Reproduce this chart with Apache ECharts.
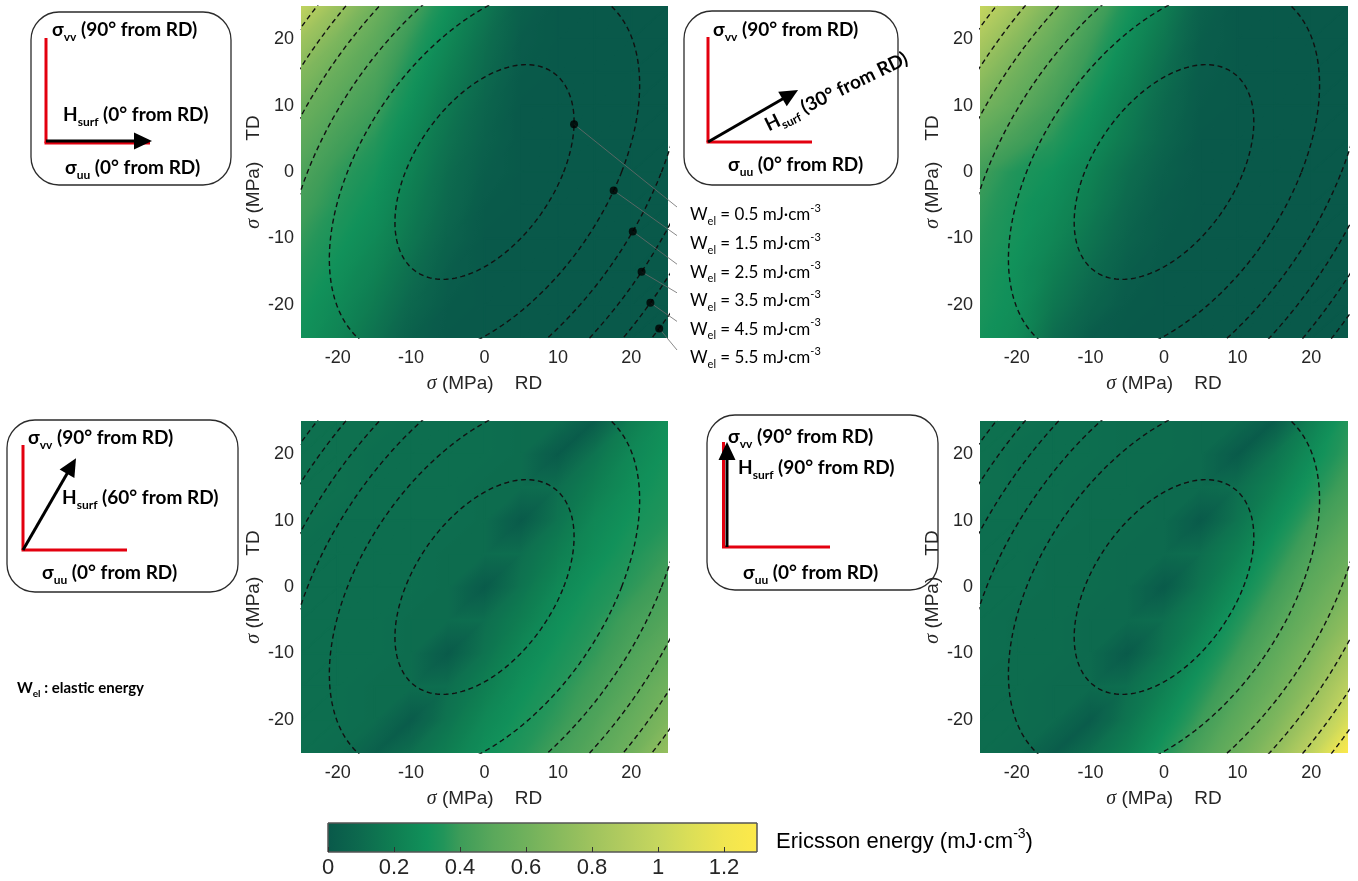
<!DOCTYPE html>
<html>
<head>
<meta charset="utf-8">
<title>Ericsson energy maps</title>
<script src="https://cdn.jsdelivr.net/npm/echarts@6/dist/echarts.min.js"></script>
<style>
  html, body { margin: 0; padding: 0; background: #ffffff; }
  #chart { width: 1358px; height: 881px; }
</style>
</head>
<body>
<div id="chart"></div>
<script>
// ---------------------------------------------------------------------------
// Data: stress grid (MPa) and Ericsson energy (mJ·cm-3) at every grid node.
// Rows run from TD = +25 (top) down to TD = -25, columns from RD = -25 to +25.
// ---------------------------------------------------------------------------
const rdNodes = [-25, -20, -15, -10, -5, 0, 5, 10, 15, 20, 25];
const tdNodes = [25, 20, 15, 10, 5, 0, -5, -10, -15, -20, -25];
const axisTicks = [-20, -10, 0, 10, 20];

// H_surf at 0° from RD
const ericssonH0 = [
  [0.97, 0.78, 0.60, 0.44, 0.30, 0.17, 0.04, 0, 0, 0, 0],
  [0.80, 0.65, 0.52, 0.38, 0.25, 0.13, 0.02, 0, 0, 0, 0],
  [0.68, 0.56, 0.46, 0.33, 0.21, 0.10, 0.01, 0, 0, 0, 0],
  [0.59, 0.49, 0.41, 0.29, 0.17, 0.07, 0, 0, 0, 0, 0],
  [0.52, 0.43, 0.36, 0.25, 0.14, 0.05, 0, 0, 0, 0, 0],
  [0.46, 0.38, 0.32, 0.22, 0.11, 0.03, 0, 0, 0, 0, 0],
  [0.42, 0.35, 0.29, 0.19, 0.09, 0.01, 0, 0, 0, 0, 0],
  [0.38, 0.32, 0.26, 0.16, 0.06, 0, 0, 0, 0, 0, 0],
  [0.35, 0.29, 0.22, 0.12, 0.03, 0, 0, 0, 0, 0, 0],
  [0.32, 0.26, 0.18, 0.08, 0.01, 0, 0, 0, 0, 0, 0],
  [0.30, 0.23, 0.14, 0.04, 0, 0, 0, 0, 0, 0, 0]
];

// H_surf at 30° from RD
const ericssonH30 = [
  [1.00, 0.82, 0.64, 0.47, 0.33, 0.20, 0.05, 0, 0, 0, 0],
  [0.86, 0.70, 0.55, 0.41, 0.28, 0.16, 0.03, 0, 0, 0, 0],
  [0.74, 0.60, 0.48, 0.36, 0.24, 0.12, 0.02, 0, 0, 0, 0],
  [0.63, 0.52, 0.42, 0.31, 0.20, 0.09, 0.01, 0, 0, 0, 0],
  [0.51, 0.43, 0.36, 0.27, 0.17, 0.07, 0, 0, 0, 0, 0],
  [0.41, 0.34, 0.30, 0.22, 0.12, 0.04, 0, 0, 0, 0, 0],
  [0.38, 0.32, 0.27, 0.19, 0.09, 0.02, 0, 0, 0, 0, 0],
  [0.36, 0.31, 0.24, 0.15, 0.06, 0.01, 0, 0, 0, 0, 0],
  [0.34, 0.29, 0.20, 0.11, 0.03, 0, 0, 0, 0, 0, 0],
  [0.33, 0.28, 0.16, 0.07, 0.01, 0, 0, 0, 0, 0, 0],
  [0.31, 0.26, 0.11, 0.02, 0, 0, 0, 0, 0, 0, 0]
];

// H_surf at 60° from RD
const ericssonH60 = [
  [0.13, 0.13, 0.13, 0.12, 0.12, 0.12, 0.11, 0.11, 0.02, 0.20, 0.29],
  [0.13, 0.13, 0.12, 0.12, 0.12, 0.12, 0.11, 0.01, 0.15, 0.25, 0.31],
  [0.13, 0.13, 0.12, 0.12, 0.12, 0.11, 0.11, 0.12, 0.20, 0.28, 0.33],
  [0.13, 0.12, 0.12, 0.12, 0.12, 0.11, 0.01, 0.15, 0.25, 0.31, 0.35],
  [0.12, 0.12, 0.12, 0.12, 0.11, 0.11, 0.12, 0.20, 0.28, 0.34, 0.39],
  [0.12, 0.12, 0.12, 0.12, 0.11, 0.01, 0.15, 0.25, 0.32, 0.37, 0.43],
  [0.12, 0.12, 0.12, 0.11, 0.11, 0.12, 0.20, 0.29, 0.35, 0.42, 0.48],
  [0.12, 0.12, 0.12, 0.11, 0.01, 0.15, 0.25, 0.32, 0.38, 0.46, 0.53],
  [0.12, 0.12, 0.11, 0.11, 0.12, 0.20, 0.29, 0.35, 0.42, 0.50, 0.60],
  [0.12, 0.12, 0.11, 0.02, 0.15, 0.25, 0.32, 0.38, 0.46, 0.55, 0.66],
  [0.12, 0.11, 0.04, 0.12, 0.20, 0.29, 0.35, 0.42, 0.50, 0.60, 0.76]
];

// H_surf at 90° from RD
const ericssonH90 = [
  [0.13, 0.13, 0.12, 0.12, 0.11, 0.11, 0.10, 0.10, 0.02, 0.21, 0.35],
  [0.13, 0.12, 0.12, 0.12, 0.11, 0.11, 0.10, 0.01, 0.15, 0.27, 0.38],
  [0.13, 0.12, 0.12, 0.11, 0.11, 0.10, 0.10, 0.12, 0.21, 0.33, 0.43],
  [0.12, 0.12, 0.12, 0.11, 0.11, 0.10, 0.01, 0.15, 0.27, 0.40, 0.49],
  [0.12, 0.12, 0.11, 0.11, 0.10, 0.10, 0.12, 0.21, 0.34, 0.46, 0.56],
  [0.12, 0.12, 0.11, 0.11, 0.10, 0.01, 0.15, 0.27, 0.40, 0.52, 0.63],
  [0.12, 0.11, 0.11, 0.10, 0.10, 0.12, 0.21, 0.34, 0.46, 0.58, 0.72],
  [0.12, 0.11, 0.11, 0.10, 0.01, 0.15, 0.27, 0.40, 0.52, 0.65, 0.82],
  [0.11, 0.11, 0.10, 0.10, 0.12, 0.21, 0.34, 0.46, 0.58, 0.73, 0.94],
  [0.11, 0.11, 0.10, 0.02, 0.15, 0.27, 0.40, 0.52, 0.65, 0.83, 1.08],
  [0.11, 0.10, 0.02, 0.12, 0.21, 0.34, 0.46, 0.58, 0.74, 0.97, 1.28]
];

// Field direction of each map (degrees from RD)
const fieldAngles = [0, 30, 60, 90];

// Elastic energy contours (mJ·cm-3) and the anisotropic compliance terms:
// W_el = kRR·σRD² + kTT·σTD² − 2·kRT·σRD·σTD   (σ in MPa)
const elasticLevels = [0.5, 1.5, 2.5, 3.5, 4.5, 5.5];
const kRR = 4.3e-3;
const kTT = 2.45e-3;
const kRT = 1.52e-3;
// RD stress of the labelled point picked on each contour
const markerRD = [12.2, 17.6, 20.2, 21.4, 22.6, 23.8];

// Colour bar
const colorbarRange = [0, 1.3];
const colorbarTicks = [0, 0.2, 0.4, 0.6, 0.8, 1, 1.2];

// ---------------------------------------------------------------------------
// Styling
// ---------------------------------------------------------------------------
const CMAP = [
  [0.00, '#09594a'], [0.10, '#0d6a4e'], [0.20, '#0f7e52'], [0.30, '#11915a'],
  [0.35, '#22955a'], [0.40, '#3d9c59'], [0.50, '#5aa85b'], [0.60, '#70b15c'],
  [0.70, '#88ba5d'], [0.80, '#9fc35e'], [0.90, '#b3cc5f'], [1.00, '#c6d65e'],
  [1.10, '#dcdf57'], [1.20, '#f0e550'], [1.30, '#fde94a']
];
const AXIS_FONT = '"Liberation Sans", Arial, sans-serif';
const NARROW_FONT = '"Liberation Sans Narrow", "Liberation Sans", Arial, sans-serif';
const NOTE_FONT = 'Lato, "Open Sans", "DejaVu Sans", sans-serif';
const TEXT_COLOR = '#262626';

function hexToRgb(h) {
  return [parseInt(h.slice(1, 3), 16), parseInt(h.slice(3, 5), 16), parseInt(h.slice(5, 7), 16)];
}
const CMAP_RGB = CMAP.map(s => [s[0], hexToRgb(s[1])]);
function cmapColor(v) {
  const lo = CMAP_RGB[0][0], hi = CMAP_RGB[CMAP_RGB.length - 1][0];
  v = Math.max(lo, Math.min(hi, v));
  for (let i = 0; i < CMAP_RGB.length - 1; i++) {
    const a = CMAP_RGB[i], b = CMAP_RGB[i + 1];
    if (v <= b[0]) {
      const t = (v - a[0]) / (b[0] - a[0]);
      const c = a[1].map((x, k) => Math.round(x + (b[1][k] - x) * t));
      return 'rgb(' + c.join(',') + ')';
    }
  }
  return CMAP[CMAP.length - 1][1];
}

// One linearly shaded triangle: the value is affine over the triangle, so a
// global linear gradient along its gradient direction reproduces it exactly.
function shadedTriangle(p, v) {
  const e1x = p[1][0] - p[0][0], e1y = p[1][1] - p[0][1];
  const e2x = p[2][0] - p[0][0], e2y = p[2][1] - p[0][1];
  const d1 = v[1] - v[0], d2 = v[2] - v[0];
  const det = e1x * e2y - e1y * e2x;
  const lo = Math.min(v[0], v[1], v[2]), hi = Math.max(v[0], v[1], v[2]);
  let fill;
  if (Math.abs(det) < 1e-9 || hi - lo < 1e-6) {
    fill = cmapColor((lo + hi) / 2);
  } else {
    const gx = (d1 * e2y - d2 * e1y) / det;
    const gy = (e1x * d2 - e2x * d1) / det;
    const g2 = gx * gx + gy * gy;
    const ta = (lo - v[0]) / g2, tb = (hi - v[0]) / g2;
    const stops = [];
    const n = 6;
    for (let k = 0; k <= n; k++) {
      stops.push({ offset: k / n, color: cmapColor(lo + (hi - lo) * k / n) });
    }
    fill = {
      type: 'linear', global: true,
      x: p[0][0] + gx * ta, y: p[0][1] + gy * ta,
      x2: p[0][0] + gx * tb, y2: p[0][1] + gy * tb,
      colorStops: stops
    };
  }
  return { type: 'polygon', shape: { points: p }, style: { fill: fill, stroke: fill, lineWidth: 1.6 } };
}

function cellData(field) {
  const out = [];
  for (let r = 0; r < tdNodes.length - 1; r++) {
    for (let c = 0; c < rdNodes.length - 1; c++) {
      out.push([
        rdNodes[c], tdNodes[r + 1], rdNodes[c + 1], tdNodes[r],
        field[r + 1][c], field[r + 1][c + 1], field[r][c], field[r][c + 1]
      ]);
    }
  }
  return out;
}

function renderCell(params, api) {
  const x0 = api.value(0), y0 = api.value(1), x1 = api.value(2), y1 = api.value(3);
  const bl = api.coord([x0, y0]), br = api.coord([x1, y0]);
  const tl = api.coord([x0, y1]), tr = api.coord([x1, y1]);
  const vbl = api.value(4), vbr = api.value(5), vtl = api.value(6), vtr = api.value(7);
  return {
    type: 'group',
    children: [
      shadedTriangle([bl, br, tr], [vbl, vbr, vtr]),
      shadedTriangle([bl, tr, tl], [vbl, vtr, vtl])
    ]
  };
}

// Closed iso-line of the elastic energy quadratic form
function elasticContour(level) {
  const pts = [];
  for (let i = 0; i <= 360; i++) {
    const t = i * Math.PI / 180;
    const c = Math.cos(t), s = Math.sin(t);
    const q = kRR * c * c + kTT * s * s - 2 * kRT * c * s;
    const r = Math.sqrt(level / q);
    pts.push([r * c, r * s]);
  }
  return pts;
}

// Point of a contour at a given RD stress (lower branch)
function contourPointAt(level, rd) {
  const disc = kRT * kRT * rd * rd - kTT * (kRR * rd * rd - level);
  const td = (kRT * rd - Math.sqrt(Math.max(0, disc))) / kTT;
  return [rd, td];
}

// ---------------------------------------------------------------------------
// Layout
// ---------------------------------------------------------------------------
const grids = [
  { left: 301, top: 6, width: 367, height: 332 },
  { left: 980, top: 6, width: 368, height: 332 },
  { left: 301, top: 421, width: 367, height: 332 },
  { left: 980, top: 421, width: 368, height: 332 },
  { left: 328, top: 823, width: 429, height: 29 }
];
const fields = [ericssonH0, ericssonH30, ericssonH60, ericssonH90];

const nameRich = {
  s: { fontFamily: '"Liberation Serif", "DejaVu Serif", serif', fontStyle: 'italic', fontSize: 20, color: TEXT_COLOR }
};

const xAxes = [], yAxes = [], series = [];
for (let k = 0; k < 4; k++) {
  xAxes.push({
    gridIndex: k, type: 'value', min: -25, max: 25,
    axisLine: { show: false }, axisTick: { show: false }, splitLine: { show: false },
    axisLabel: { customValues: axisTicks, color: TEXT_COLOR, fontSize: 18, fontFamily: AXIS_FONT, margin: 11 },
    name: '{s|σ} (MPa)    RD', nameLocation: 'middle', nameGap: 36,
    nameTextStyle: { color: TEXT_COLOR, fontSize: 19, fontFamily: AXIS_FONT, rich: nameRich }
  });
  yAxes.push({
    gridIndex: k, type: 'value', min: -25, max: 25,
    axisLine: { show: false }, axisTick: { show: false }, splitLine: { show: false },
    axisLabel: { customValues: axisTicks, color: TEXT_COLOR, fontSize: 18, fontFamily: AXIS_FONT, margin: 7 },
    name: '{s|σ} (MPa)    TD', nameLocation: 'middle', nameGap: 37,
    nameTextStyle: { color: TEXT_COLOR, fontSize: 19, fontFamily: AXIS_FONT, rich: nameRich }
  });
  series.push({
    type: 'custom', xAxisIndex: k, yAxisIndex: k, silent: true, z: 1, clip: true,
    renderItem: renderCell, encode: { x: [0, 2], y: [1, 3] },
    data: cellData(fields[k])
  });
  elasticLevels.forEach(level => {
    series.push({
      type: 'line', xAxisIndex: k, yAxisIndex: k, silent: true, z: 3,
      symbol: 'none', clip: true, smooth: false,
      lineStyle: { color: '#111111', width: 1.4, type: [5, 3.5] },
      data: elasticContour(level)
    });
  });
}

// Labelled points on the first map
const markerPoints = elasticLevels.map((lvl, i) => contourPointAt(lvl, markerRD[i]));
series.push({
  type: 'scatter', xAxisIndex: 0, yAxisIndex: 0, silent: true, z: 6,
  symbol: 'circle', symbolSize: 8, itemStyle: { color: '#000000' },
  data: markerPoints
});

// Colour bar axis
xAxes.push({
  gridIndex: 4, type: 'value', min: colorbarRange[0], max: colorbarRange[1], z: 10,
  axisLine: { show: false }, splitLine: { show: false },
  axisTick: { show: true, inside: true, length: 5, customValues: colorbarTicks, lineStyle: { color: '#333', width: 1 } },
  axisLabel: { customValues: colorbarTicks, color: TEXT_COLOR, fontSize: 22, fontFamily: NARROW_FONT, margin: 5 }
});
yAxes.push({ gridIndex: 4, type: 'value', min: 0, max: 1, show: false });
series.push({
  type: 'custom', xAxisIndex: 4, yAxisIndex: 4, silent: true, z: 1,
  encode: { x: [0, 1] },
  data: [[colorbarRange[0], colorbarRange[1]]],
  renderItem: function (params, api) {
    const p0 = api.coord([api.value(0), 0]);
    const p1 = api.coord([api.value(1), 1]);
    const span = colorbarRange[1] - colorbarRange[0];
    const stops = CMAP.map(s => ({ offset: (s[0] - colorbarRange[0]) / span, color: s[1] }));
    return {
      type: 'rect',
      shape: { x: p0[0], y: p1[1], width: p1[0] - p0[0], height: p0[1] - p1[1] },
      style: {
        fill: { type: 'linear', global: true, x: p0[0], y: 0, x2: p1[0], y2: 0, colorStops: stops },
        stroke: '#555555', lineWidth: 1
      }
    };
  }
});

const chart = echarts.init(document.getElementById('chart'), null, { renderer: 'canvas' });
chart.setOption({
  animation: false,
  backgroundColor: '#ffffff',
  grid: grids,
  xAxis: xAxes,
  yAxis: yAxes,
  series: series
});

// ---------------------------------------------------------------------------
// Annotations: inset sketches, contour labels, colour bar title
// ---------------------------------------------------------------------------
const insetRich = {
  t: { fontFamily: NOTE_FONT, fontWeight: 'bold', fontSize: 19, lineHeight: 26, color: '#111' },
  s: { fontFamily: NOTE_FONT, fontWeight: 'bold', fontSize: 12, lineHeight: 14, verticalAlign: 'bottom', color: '#111' }
};
function richText(x, y, text, rich, extra) {
  return Object.assign({
    type: 'text', x: x, y: y, silent: true,
    style: {
      text: text, rich: rich, x: 0, y: 0,
      align: 'left', textAlign: 'left', verticalAlign: 'middle', textVerticalAlign: 'middle'
    }
  }, extra || {});
}
function arrow(x0, y0, angleDeg, len, color, width) {
  const a = angleDeg * Math.PI / 180;
  const ux = Math.cos(a), uy = -Math.sin(a);
  const tipX = x0 + ux * len, tipY = y0 + uy * len;
  const head = 18, half = 8.5;
  const bx = tipX - ux * head, by = tipY - uy * head;
  return [
    { type: 'line', silent: true, shape: { x1: x0, y1: y0, x2: bx + ux * 2, y2: by + uy * 2 }, style: { stroke: color, lineWidth: width } },
    { type: 'polygon', silent: true, shape: { points: [[tipX, tipY], [bx - uy * half, by + ux * half], [bx + uy * half, by - ux * half]] }, style: { fill: color } }
  ];
}
const RED = '#e3000f';
function inset(cfg, angle) {
  const els = [];
  els.push({ type: 'rect', silent: true, shape: { x: cfg.box[0], y: cfg.box[1], width: cfg.box[2], height: cfg.box[3], r: 28 },
             style: { fill: '#ffffff', stroke: '#2b2b2b', lineWidth: 1.3 } });
  const o = cfg.origin;
  els.push({ type: 'line', silent: true, shape: { x1: o[0] - cfg.redShift, y1: o[1] - 105, x2: o[0] - cfg.redShift, y2: o[1] }, style: { stroke: RED, lineWidth: 3 } });
  els.push({ type: 'line', silent: true, shape: { x1: o[0] - cfg.redShift - 1.5, y1: o[1], x2: o[0] + 104, y2: o[1] }, style: { stroke: RED, lineWidth: 3 } });
  arrow(o[0] + cfg.arrowShift[0], o[1] + cfg.arrowShift[1], angle, cfg.arrowLen, '#000000', 3).forEach(e => els.push(e));
  els.push(richText(cfg.vv[0], cfg.vv[1], '{t|σ}{s|vv}{t| (90° from RD)}', insetRich));
  els.push(richText(cfg.uu[0], cfg.uu[1], '{t|σ}{s|uu}{t| (0° from RD)}', insetRich));
  const hText = '{t|H}{s|surf}{t| (' + angle + '° from RD)}';
  if (cfg.hRot) {
    els.push(richText(cfg.h[0], cfg.h[1], hText, insetRich, { rotation: cfg.hRot * Math.PI / 180 }));
  } else {
    els.push(richText(cfg.h[0], cfg.h[1], hText, insetRich));
  }
  return els;
}

const insetLayouts = [
  { box: [31, 12, 200, 173], origin: [46, 143], redShift: 0, arrowShift: [0, -2], arrowLen: 106, vv: [52, 30], uu: [65, 168], h: [63, 115] },
  { box: [684, 11, 214, 174], origin: [708, 142], redShift: 0, arrowShift: [0, 0], arrowLen: 104, vv: [713, 30], uu: [728, 165], h: [766, 126], hRot: 26 },
  { box: [7, 420, 231, 172], origin: [23, 550], redShift: 0, arrowShift: [0, 0], arrowLen: 106, vv: [28, 438], uu: [42, 573], h: [62, 498] },
  { box: [707, 415, 231, 175], origin: [726, 547], redShift: 2.5, arrowShift: [1, 0], arrowLen: 105, vv: [728, 437], uu: [743, 573], h: [738, 468] }
];

const graphics = [];
insetLayouts.forEach((cfg, i) => inset(cfg, fieldAngles[i]).forEach(e => graphics.push(e)));

// Contour labels with leader lines from the labelled points
const labelRich = {
  t: { fontFamily: NOTE_FONT, fontSize: 17, lineHeight: 24, color: '#1a1a1a' },
  s: { fontFamily: NOTE_FONT, fontSize: 11, lineHeight: 14, verticalAlign: 'bottom', color: '#1a1a1a' },
  p: { fontFamily: NOTE_FONT, fontSize: 11, lineHeight: 18, verticalAlign: 'top', color: '#1a1a1a' }
};
const labelX = 690, labelTop = 215, labelStep = 28.6;
markerPoints.forEach((pt, i) => {
  const px = chart.convertToPixel({ xAxisIndex: 0, yAxisIndex: 0 }, pt);
  const ly = labelTop + i * labelStep;
  graphics.push({ type: 'line', silent: true, z: 5, shape: { x1: px[0], y1: px[1], x2: labelX - 13, y2: ly - 8 },
                  style: { stroke: '#6b6b6b', lineWidth: 0.8 } });
  graphics.push(richText(labelX, ly, '{t|W}{s|el}{t| = ' + elasticLevels[i] + ' mJ·cm}{p|-3}', labelRich));
});

graphics.push(richText(17, 688, '{t|W}{s|el}{t| : elastic energy}', {
  t: { fontFamily: NOTE_FONT, fontWeight: 'bold', fontSize: 15, lineHeight: 22, color: '#111' },
  s: { fontFamily: NOTE_FONT, fontWeight: 'bold', fontSize: 10, lineHeight: 12, verticalAlign: 'bottom', color: '#111' }
}));

graphics.push(richText(776, 842, '{t|Ericsson energy (mJ·cm}{p|-3}{t|)}', {
  t: { fontFamily: NARROW_FONT, fontSize: 22, lineHeight: 30, color: TEXT_COLOR },
  p: { fontFamily: NARROW_FONT, fontSize: 14, lineHeight: 20, verticalAlign: 'top', color: TEXT_COLOR }
}));

chart.setOption({ graphic: { elements: graphics } });
</script>
</body>
</html>
